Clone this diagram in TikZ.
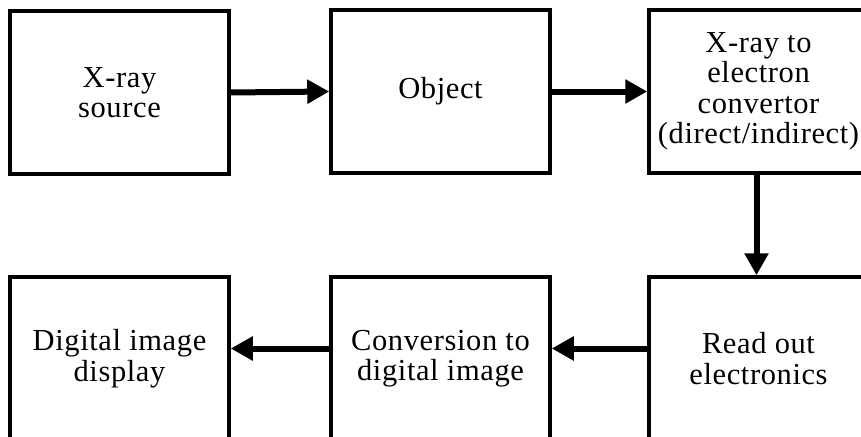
\documentclass[tikz,border=0pt]{standalone}
\usepackage{fontspec}
\setmainfont{Liberation Serif}[LetterSpace=2]
\usetikzlibrary{arrows.meta}

\begin{document}
\begin{tikzpicture}[x=1pt, y=-1pt,
    block/.style={draw, line width=3.5pt, minimum width=219pt, minimum height=163pt,
        inner sep=3pt, align=center, font=\fontsize{30.5}{30.5}\selectfont},
    flow/.style={line width=6pt, -{Triangle[length=22pt, width=23pt]}}]
    \clip (0,0) rectangle (861,436);

    % upper row
    \node[block] (source) at (119.5,92.5) {X-ray\\source};
    \node[block] (object) at (440.5,91.5) {Object};
    \node[block] (convertor) at (758.5,91.5) {X-ray to\\electron\\convertor\\(direct/indirect)};

    % lower row
    \node[block] (readout) at (758.5,358.5) {Read out\\electronics};
    \node[block] (digitize) at (440.5,358.5) {Conversion to\\digital image};
    \node[block] (display) at (119.5,358.5) {Digital image\\display};

    \draw[flow] (source.east) -- (object.west);
    \draw[flow] (object.east) -- (convertor.west);
    \draw[flow] ([xshift=-2pt]convertor.south) -- ([xshift=-2pt]readout.north);
    \draw[flow] ([yshift=10pt]readout.west) -- ([yshift=10pt]digitize.east);
    \draw[flow] ([yshift=10pt]digitize.west) -- ([yshift=10pt]display.east);
\end{tikzpicture}
\end{document}
